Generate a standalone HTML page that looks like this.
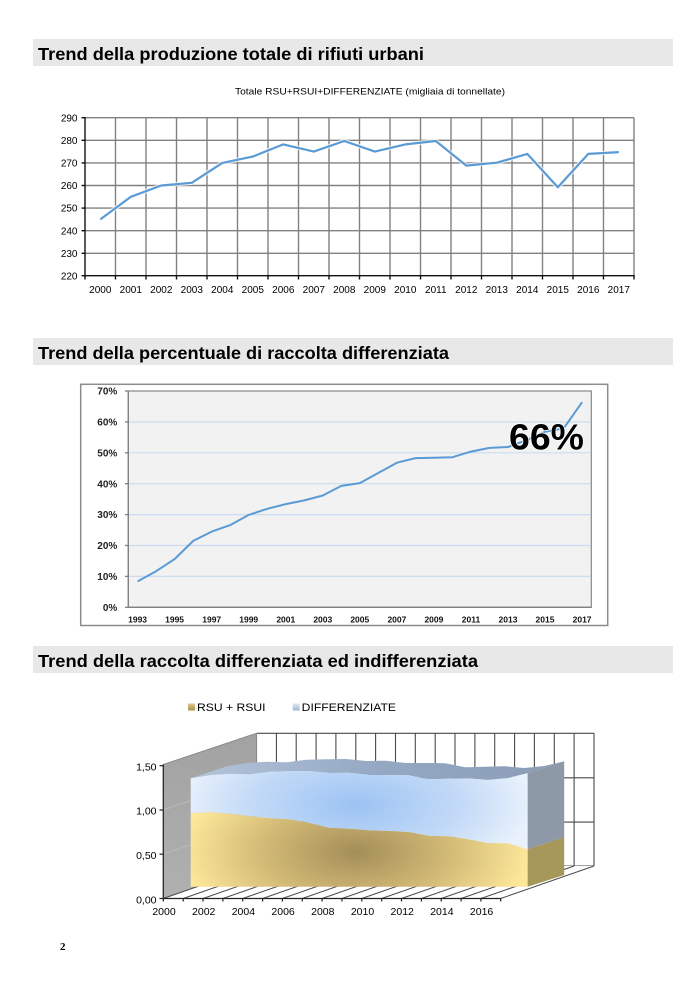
<!DOCTYPE html>
<html><head><meta charset="utf-8"><style>
html,body{margin:0;padding:0;background:#fff;}
svg{display:block;}
text{font-family:"Liberation Sans",Arial,sans-serif;}
</style></head><body>
<svg width="688" height="982" viewBox="0 0 688 982" xmlns="http://www.w3.org/2000/svg">
<defs>
<radialGradient id="gBlue" gradientUnits="userSpaceOnUse" cx="356" cy="805" r="175" gradientTransform="translate(356 805) scale(1 0.45) translate(-356 -805)">
<stop offset="0" stop-color="#9cc3f3"/><stop offset="0.6" stop-color="#c3daf7"/><stop offset="1" stop-color="#e8f1fc"/>
</radialGradient>
<radialGradient id="gGold" gradientUnits="userSpaceOnUse" cx="356" cy="852" r="175" gradientTransform="translate(356 852) scale(1 0.5) translate(-356 -852)">
<stop offset="0" stop-color="#a38e58"/><stop offset="0.55" stop-color="#d4bb77"/><stop offset="1" stop-color="#fde89a"/>
</radialGradient>
<linearGradient id="gTop" x1="0" y1="0" x2="1" y2="0">
<stop offset="0" stop-color="#b3c4da"/><stop offset="0.5" stop-color="#95a8c3"/><stop offset="1" stop-color="#8a9cb6"/>
</linearGradient>
<linearGradient id="gWall" x1="0" y1="0" x2="0" y2="1">
<stop offset="0" stop-color="#a2a2a2"/><stop offset="1" stop-color="#b0b0b0"/>
</linearGradient>
<linearGradient id="gMk1" x1="0" y1="0" x2="0" y2="1"><stop offset="0" stop-color="#e0c98a"/><stop offset="1" stop-color="#a88f52"/></linearGradient>
<linearGradient id="gMk2" x1="0" y1="0" x2="0" y2="1"><stop offset="0" stop-color="#dde8f6"/><stop offset="1" stop-color="#9fb6d6"/></linearGradient>
</defs>

<!-- ========== Section 1 ========== -->
<rect x="33" y="39" width="640" height="27" fill="#e8e8e8"/>
<text x="38" y="60" font-size="17.5" font-weight="bold" fill="#000" textLength="386" lengthAdjust="spacingAndGlyphs">Trend della produzione totale di rifiuti urbani</text>
<text x="235" y="94.5" font-size="9" fill="#000" textLength="270" lengthAdjust="spacingAndGlyphs">Totale RSU+RSUI+DIFFERENZIATE  (migliaia di tonnellate)</text>

<g stroke="#808080" stroke-width="1.4" fill="none">
<line x1="85" y1="117.7" x2="634" y2="117.7"/>
<line x1="85" y1="140.3" x2="634" y2="140.3"/>
<line x1="85" y1="162.9" x2="634" y2="162.9"/>
<line x1="85" y1="185.5" x2="634" y2="185.5"/>
<line x1="85" y1="208.1" x2="634" y2="208.1"/>
<line x1="85" y1="230.7" x2="634" y2="230.7"/>
<line x1="85" y1="253.3" x2="634" y2="253.3"/>
<line x1="115.5" y1="117.7" x2="115.5" y2="275.7"/>
<line x1="146" y1="117.7" x2="146" y2="275.7"/>
<line x1="176.5" y1="117.7" x2="176.5" y2="275.7"/>
<line x1="207" y1="117.7" x2="207" y2="275.7"/>
<line x1="237.5" y1="117.7" x2="237.5" y2="275.7"/>
<line x1="268" y1="117.7" x2="268" y2="275.7"/>
<line x1="298.5" y1="117.7" x2="298.5" y2="275.7"/>
<line x1="329" y1="117.7" x2="329" y2="275.7"/>
<line x1="359.5" y1="117.7" x2="359.5" y2="275.7"/>
<line x1="390" y1="117.7" x2="390" y2="275.7"/>
<line x1="420.5" y1="117.7" x2="420.5" y2="275.7"/>
<line x1="451" y1="117.7" x2="451" y2="275.7"/>
<line x1="481.5" y1="117.7" x2="481.5" y2="275.7"/>
<line x1="512" y1="117.7" x2="512" y2="275.7"/>
<line x1="542.5" y1="117.7" x2="542.5" y2="275.7"/>
<line x1="573" y1="117.7" x2="573" y2="275.7"/>
<line x1="603.5" y1="117.7" x2="603.5" y2="275.7"/>
<line x1="634" y1="117.7" x2="634" y2="275.7"/>
</g>
<g stroke="#111" stroke-width="1.4">
<line x1="85" y1="117" x2="85" y2="276.4"/>
<line x1="84.3" y1="275.7" x2="634.7" y2="275.7"/>
<line x1="81.5" y1="117.7" x2="85" y2="117.7"/>
<line x1="81.5" y1="140.3" x2="85" y2="140.3"/>
<line x1="81.5" y1="162.9" x2="85" y2="162.9"/>
<line x1="81.5" y1="185.5" x2="85" y2="185.5"/>
<line x1="81.5" y1="208.1" x2="85" y2="208.1"/>
<line x1="81.5" y1="230.7" x2="85" y2="230.7"/>
<line x1="81.5" y1="253.3" x2="85" y2="253.3"/>
<line x1="81.5" y1="275.7" x2="85" y2="275.7"/>
<line x1="85" y1="275.7" x2="85" y2="279.5"/>
<line x1="115.5" y1="275.7" x2="115.5" y2="279.5"/>
<line x1="146" y1="275.7" x2="146" y2="279.5"/>
<line x1="176.5" y1="275.7" x2="176.5" y2="279.5"/>
<line x1="207" y1="275.7" x2="207" y2="279.5"/>
<line x1="237.5" y1="275.7" x2="237.5" y2="279.5"/>
<line x1="268" y1="275.7" x2="268" y2="279.5"/>
<line x1="298.5" y1="275.7" x2="298.5" y2="279.5"/>
<line x1="329" y1="275.7" x2="329" y2="279.5"/>
<line x1="359.5" y1="275.7" x2="359.5" y2="279.5"/>
<line x1="390" y1="275.7" x2="390" y2="279.5"/>
<line x1="420.5" y1="275.7" x2="420.5" y2="279.5"/>
<line x1="451" y1="275.7" x2="451" y2="279.5"/>
<line x1="481.5" y1="275.7" x2="481.5" y2="279.5"/>
<line x1="512" y1="275.7" x2="512" y2="279.5"/>
<line x1="542.5" y1="275.7" x2="542.5" y2="279.5"/>
<line x1="573" y1="275.7" x2="573" y2="279.5"/>
<line x1="603.5" y1="275.7" x2="603.5" y2="279.5"/>
<line x1="634" y1="275.7" x2="634" y2="279.5"/>
</g>
<g font-size="10" fill="#000" text-anchor="end">
<text x="77.5" y="121.3">290</text>
<text x="77.5" y="143.9">280</text>
<text x="77.5" y="166.5">270</text>
<text x="77.5" y="189.1">260</text>
<text x="77.5" y="211.7">250</text>
<text x="77.5" y="234.3">240</text>
<text x="77.5" y="256.9">230</text>
<text x="77.5" y="279.3">220</text>
</g>
<g font-size="10" fill="#000" text-anchor="middle">
<text x="100.3" y="293">2000</text><text x="130.8" y="293">2001</text><text x="161.3" y="293">2002</text>
<text x="191.8" y="293">2003</text><text x="222.3" y="293">2004</text><text x="252.8" y="293">2005</text>
<text x="283.3" y="293">2006</text><text x="313.8" y="293">2007</text><text x="344.3" y="293">2008</text>
<text x="374.8" y="293">2009</text><text x="405.3" y="293">2010</text><text x="435.8" y="293">2011</text>
<text x="466.3" y="293">2012</text><text x="496.8" y="293">2013</text><text x="527.3" y="293">2014</text>
<text x="557.8" y="293">2015</text><text x="588.3" y="293">2016</text><text x="618.8" y="293">2017</text>
</g>
<polyline fill="none" stroke="#ffffff" stroke-opacity="0.7" stroke-width="4.5" stroke-linejoin="round" points="100.3,219.4 130.8,196.8 161.3,185.5 191.8,182.8 222.3,162.9 252.8,156.6 283.3,144.4 313.8,151.6 344.3,141 374.8,151.6 405.3,144.4 435.8,141 466.3,165.6 496.8,162.7 527.3,153.9 557.8,187.3 588.3,153.9 618.8,152.1"/>
<polyline fill="none" stroke="#5b9bd5" stroke-width="2.2" stroke-linejoin="round" points="100.3,219.4 130.8,196.8 161.3,185.5 191.8,182.8 222.3,162.9 252.8,156.6 283.3,144.4 313.8,151.6 344.3,141 374.8,151.6 405.3,144.4 435.8,141 466.3,165.6 496.8,162.7 527.3,153.9 557.8,187.3 588.3,153.9 618.8,152.1"/>

<!-- ========== Section 2 ========== -->
<rect x="33" y="338" width="640" height="27" fill="#e8e8e8"/>
<text x="38" y="359" font-size="17.5" font-weight="bold" fill="#000" textLength="411" lengthAdjust="spacingAndGlyphs">Trend della percentuale di raccolta differenziata</text>

<rect x="80.7" y="384.3" width="527" height="241.2" fill="#fff" stroke="#8c8c8c" stroke-width="1.5"/>
<rect x="128.3" y="391" width="463" height="216.3" fill="#f2f2f2" stroke="#868686" stroke-width="1.2"/>
<g stroke="#c9dcf1" stroke-width="1.2">
<line x1="129" y1="421.9" x2="590.7" y2="421.9"/>
<line x1="129" y1="452.8" x2="590.7" y2="452.8"/>
<line x1="129" y1="483.7" x2="590.7" y2="483.7"/>
<line x1="129" y1="514.6" x2="590.7" y2="514.6"/>
<line x1="129" y1="545.5" x2="590.7" y2="545.5"/>
<line x1="129" y1="576.4" x2="590.7" y2="576.4"/>
</g>
<g stroke="#808080" stroke-width="1.3">
<line x1="128.3" y1="391" x2="128.3" y2="607.3"/>
<line x1="128.3" y1="607.3" x2="591.3" y2="607.3"/>
<line x1="125" y1="391" x2="128.3" y2="391"/>
<line x1="125" y1="421.9" x2="128.3" y2="421.9"/>
<line x1="125" y1="452.8" x2="128.3" y2="452.8"/>
<line x1="125" y1="483.7" x2="128.3" y2="483.7"/>
<line x1="125" y1="514.6" x2="128.3" y2="514.6"/>
<line x1="125" y1="545.5" x2="128.3" y2="545.5"/>
<line x1="125" y1="576.4" x2="128.3" y2="576.4"/>
<line x1="125" y1="607.3" x2="128.3" y2="607.3"/>
</g>
<g font-size="10" font-weight="bold" fill="#222" text-anchor="end">
<text x="117.3" y="394.6">70%</text>
<text x="117.3" y="425.5">60%</text>
<text x="117.3" y="456.4">50%</text>
<text x="117.3" y="487.3">40%</text>
<text x="117.3" y="518.2">30%</text>
<text x="117.3" y="549.1">20%</text>
<text x="117.3" y="580">10%</text>
<text x="117.3" y="610.9">0%</text>
</g>
<g font-size="8.5" font-weight="bold" fill="#111" text-anchor="middle">
<text x="137.6" y="622.3">1993</text><text x="174.6" y="622.3">1995</text><text x="211.7" y="622.3">1997</text>
<text x="248.7" y="622.3">1999</text><text x="285.8" y="622.3">2001</text><text x="322.8" y="622.3">2003</text>
<text x="359.8" y="622.3">2005</text><text x="396.9" y="622.3">2007</text><text x="433.9" y="622.3">2009</text>
<text x="471" y="622.3">2011</text><text x="508" y="622.3">2013</text><text x="545" y="622.3">2015</text>
<text x="582.1" y="622.3">2017</text>
</g>
<polyline fill="none" stroke="#5b9bd5" stroke-width="2" stroke-linejoin="round" points="137.6,581.4 156.1,571.2 174.6,559.1 193.2,540.9 211.7,531.6 230.2,525.1 248.7,514.9 267.2,508.8 285.8,504.1 304.3,500.4 322.8,495.5 341.3,485.9 359.8,483.1 378.4,472.9 396.9,462.7 415.4,458.1 433.9,457.8 452.4,457.2 471,451.6 489.5,447.9 508,447 526.5,440.2 545,431.8 563.6,428.4 582.1,402.2"/>
<text x="509" y="449.3" font-size="36" font-weight="bold" fill="#000" stroke="#fff" stroke-width="1.5" paint-order="stroke" textLength="75" lengthAdjust="spacingAndGlyphs">66%</text>

<!-- ========== Section 3 ========== -->
<rect x="33" y="646" width="640" height="27" fill="#e8e8e8"/>
<text x="38" y="667" font-size="17.5" font-weight="bold" fill="#000" textLength="440" lengthAdjust="spacingAndGlyphs">Trend della raccolta differenziata ed indifferenziata</text>

<!-- legend -->
<rect x="188" y="703.5" width="7" height="7" fill="url(#gMk1)"/>
<text x="197" y="710.8" font-size="11" fill="#000" textLength="68.5" lengthAdjust="spacingAndGlyphs">RSU + RSUI</text>
<rect x="292.7" y="703.5" width="7" height="7" fill="url(#gMk2)"/>
<text x="301.7" y="710.8" font-size="11" fill="#000" textLength="94.3" lengthAdjust="spacingAndGlyphs">DIFFERENZIATE</text>

<!-- back wall -->
<rect x="256.5" y="733.3" width="337.5" height="132.7" fill="#fff"/>
<g stroke="#4a4a4a" stroke-width="1.1">
<line x1="256.5" y1="733.3" x2="594" y2="733.3"/>
<line x1="256.5" y1="777.8" x2="594" y2="777.8"/>
<line x1="256.5" y1="822.1" x2="594" y2="822.1"/>
<line x1="256.5" y1="866" x2="594" y2="866"/>
<line x1="256.5" y1="733.3" x2="256.5" y2="866"/>
<line x1="276.4" y1="733.3" x2="276.4" y2="866"/>
<line x1="296.2" y1="733.3" x2="296.2" y2="866"/>
<line x1="316.1" y1="733.3" x2="316.1" y2="866"/>
<line x1="335.9" y1="733.3" x2="335.9" y2="866"/>
<line x1="355.8" y1="733.3" x2="355.8" y2="866"/>
<line x1="375.6" y1="733.3" x2="375.6" y2="866"/>
<line x1="395.5" y1="733.3" x2="395.5" y2="866"/>
<line x1="415.3" y1="733.3" x2="415.3" y2="866"/>
<line x1="435.2" y1="733.3" x2="435.2" y2="866"/>
<line x1="455" y1="733.3" x2="455" y2="866"/>
<line x1="474.9" y1="733.3" x2="474.9" y2="866"/>
<line x1="494.7" y1="733.3" x2="494.7" y2="866"/>
<line x1="514.6" y1="733.3" x2="514.6" y2="866"/>
<line x1="534.4" y1="733.3" x2="534.4" y2="866"/>
<line x1="554.3" y1="733.3" x2="554.3" y2="866"/>
<line x1="574.1" y1="733.3" x2="574.1" y2="866"/>
<line x1="594" y1="733.3" x2="594" y2="866"/>
</g>

<!-- left wall -->
<polygon points="163.3,764.5 256.5,733.3 256.5,866 163.3,898.5" fill="url(#gWall)" stroke="#8a8a8a" stroke-width="1"/>
<g stroke="#b9b9b9" stroke-width="1">
<line x1="163.3" y1="854.2" x2="256.5" y2="822.1"/>
<line x1="163.3" y1="810" x2="256.5" y2="777.8"/>
</g>

<!-- floor -->
<polygon points="163.3,898.5 500.7,898.5 594,866 256.5,866" fill="#fff"/>
<g stroke="#4a4a4a" stroke-width="1">
<line x1="163.3" y1="898.5" x2="256.5" y2="866"/>
<line x1="183.2" y1="898.5" x2="276.4" y2="866"/>
<line x1="203" y1="898.5" x2="296.2" y2="866"/>
<line x1="222.9" y1="898.5" x2="316.1" y2="866"/>
<line x1="242.7" y1="898.5" x2="335.9" y2="866"/>
<line x1="262.6" y1="898.5" x2="355.8" y2="866"/>
<line x1="282.4" y1="898.5" x2="375.6" y2="866"/>
<line x1="302.3" y1="898.5" x2="395.5" y2="866"/>
<line x1="322.1" y1="898.5" x2="415.3" y2="866"/>
<line x1="342" y1="898.5" x2="435.2" y2="866"/>
<line x1="361.8" y1="898.5" x2="455" y2="866"/>
<line x1="381.7" y1="898.5" x2="474.9" y2="866"/>
<line x1="401.5" y1="898.5" x2="494.7" y2="866"/>
<line x1="421.4" y1="898.5" x2="514.6" y2="866"/>
<line x1="441.2" y1="898.5" x2="534.4" y2="866"/>
<line x1="461.1" y1="898.5" x2="554.3" y2="866"/>
<line x1="480.9" y1="898.5" x2="574.1" y2="866"/>
<line x1="500.7" y1="898.5" x2="594" y2="866"/>
</g>

<!-- band: top face -->
<polygon fill="url(#gTop)" points="190.7,778.3 210.5,775 230.3,773.7 250.2,774.3 270,771.7 289.8,771.3 309.6,771 329.4,773 349.3,772.7 369.1,775 388.9,775 408.7,775.3 428.5,779.3 448.4,778.7 468.2,778.3 488,780 507.8,778 527.6,773.3 564.2,761.3 544.4,766 524.6,768 504.8,766.3 485,766.7 465.1,767.3 445.3,763.3 425.5,763 405.7,763 385.9,760.7 366,761 346.2,759 326.4,759.3 306.6,759.7 286.8,762.3 266.9,761.7 247.1,763 227.3,766.3"/>
<!-- band: right face -->
<polygon fill="#8e99a8" points="527.6,773.3 564.2,761.3 564.2,837.3 527.6,849.3"/>
<polygon fill="#a6985b" points="527.6,849.3 564.2,837.3 564.2,875 527.6,886.7"/>
<!-- band: front faces -->
<polygon fill="url(#gBlue)" points="190.7,778.3 210.5,775 230.3,773.7 250.2,774.3 270,771.7 289.8,771.3 309.6,771 329.4,773 349.3,772.7 369.1,775 388.9,775 408.7,775.3 428.5,779.3 448.4,778.7 468.2,778.3 488,780 507.8,778 527.6,773.3 527.6,849.3 507.8,843.3 488,843 468.2,839.3 448.4,836.3 428.5,835.7 408.7,832 388.9,831 369.1,830.3 349.3,828.7 329.4,827.7 309.6,823 289.8,819.3 270,818.3 250.2,816.3 230.3,813.7 210.5,812.3 190.7,813.3"/>
<polygon fill="url(#gGold)" points="190.7,813.3 210.5,812.3 230.3,813.7 250.2,816.3 270,818.3 289.8,819.3 309.6,823 329.4,827.7 349.3,828.7 369.1,830.3 388.9,831 408.7,832 428.5,835.7 448.4,836.3 468.2,839.3 488,843 507.8,843.3 527.6,849.3 527.6,886.7 190.7,886.7"/>

<!-- axes -->
<g stroke="#222" stroke-width="1.2">
<line x1="163.3" y1="764.5" x2="163.3" y2="898.5"/>
<line x1="163.3" y1="898.5" x2="500.7" y2="898.5"/>
<line x1="159.5" y1="765.7" x2="163.3" y2="765.7"/>
<line x1="159.5" y1="810" x2="163.3" y2="810"/>
<line x1="159.5" y1="854.2" x2="163.3" y2="854.2"/>
<line x1="159.5" y1="898.5" x2="163.3" y2="898.5"/>
<line x1="163.3" y1="898.5" x2="163.3" y2="901.5"/>
<line x1="183.2" y1="898.5" x2="183.2" y2="901.5"/>
<line x1="203" y1="898.5" x2="203" y2="901.5"/>
<line x1="222.9" y1="898.5" x2="222.9" y2="901.5"/>
<line x1="242.7" y1="898.5" x2="242.7" y2="901.5"/>
<line x1="262.6" y1="898.5" x2="262.6" y2="901.5"/>
<line x1="282.4" y1="898.5" x2="282.4" y2="901.5"/>
<line x1="302.3" y1="898.5" x2="302.3" y2="901.5"/>
<line x1="322.1" y1="898.5" x2="322.1" y2="901.5"/>
<line x1="342" y1="898.5" x2="342" y2="901.5"/>
<line x1="361.8" y1="898.5" x2="361.8" y2="901.5"/>
<line x1="381.7" y1="898.5" x2="381.7" y2="901.5"/>
<line x1="401.5" y1="898.5" x2="401.5" y2="901.5"/>
<line x1="421.4" y1="898.5" x2="421.4" y2="901.5"/>
<line x1="441.2" y1="898.5" x2="441.2" y2="901.5"/>
<line x1="461.1" y1="898.5" x2="461.1" y2="901.5"/>
<line x1="480.9" y1="898.5" x2="480.9" y2="901.5"/>
<line x1="500.7" y1="898.5" x2="500.7" y2="901.5"/>
</g>
<g font-size="10.5" fill="#000" text-anchor="end">
<text x="156.5" y="770.5">1,50</text>
<text x="156.5" y="814.5">1,00</text>
<text x="156.5" y="858.8">0,50</text>
<text x="156.5" y="903.5">0,00</text>
</g>
<g font-size="10.5" fill="#000" text-anchor="middle">
<text x="164" y="914.8">2000</text><text x="203.7" y="914.8">2002</text><text x="243.4" y="914.8">2004</text>
<text x="283.1" y="914.8">2006</text><text x="322.8" y="914.8">2008</text><text x="362.5" y="914.8">2010</text>
<text x="402.2" y="914.8">2012</text><text x="441.9" y="914.8">2014</text><text x="481.6" y="914.8">2016</text>
</g>

<text x="60" y="950" style="font-family:'Liberation Serif',serif;font-size:11px;font-weight:bold;" fill="#000">2</text>
</svg>
</body></html>
